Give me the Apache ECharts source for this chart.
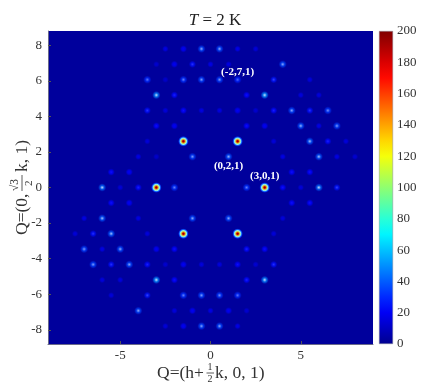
<!DOCTYPE html>
<html><head><meta charset="utf-8">
<style>html,body{margin:0;padding:0;background:#fff}#c{width:423px;height:386px}</style>
<script src="https://cdn.jsdelivr.net/npm/echarts@6/dist/echarts.min.js"></script>
</head><body><div id="c"></div>
<script>
const xTicks = [-5, 0, 5];
const yTicks = [-8, -6, -4, -2, 0, 2, 4, 6, 8];
const barMax = 200;
const rowK = [9, 8, 7, 6, 5, 4, 3, 2, 1, 0, -1, -2, -3, -4, -5, -6, -7, -8, -9];
const rowX = [
  [-2.5, -1.5, -0.5, 0.5, 1.5, 2.5],
  [-3, -2, -1, 0, 1, 4],
  [-3.5, -2.5, -1.5, -0.5, 0.5, 1.5, 3.5, 5.5],
  [-3, -2, 2, 3, 5, 6],
  [-3.5, -2.5, -1.5, -0.5, 0.5, 1.5, 2.5, 3.5, 4.5, 5.5, 6.5],
  [-3, -2, 2, 3, 5, 6, 7],
  [-3.5, -1.5, 1.5, 3.5, 5.5, 6.5, 7.5],
  [-4, -3, -1, 1, 4, 6, 7, 8],
  [-5.5, -4.5, 4.5, 5.5],
  [-6, -5, -4, -3, -2, 2, 3, 4, 5, 6, 7],
  [-5.5, -4.5, 4.5, 5.5],
  [-7, -6, -4, -1, 1, 4],
  [-7.5, -6.5, -5.5, -3.5, -1.5, 1.5, 3.5],
  [-7, -6, -5, -3, -2, 2, 3],
  [-6.5, -5.5, -4.5, -3.5, -2.5, -1.5, -0.5, 0.5, 1.5, 2.5, 3.5],
  [-6, -5, -3, -2, 2, 3],
  [-5.5, -3.5, -1.5, -0.5, 0.5, 1.5],
  [-4, -2, -1, 0, 1, 2],
  [-2.5, -1.5, -0.5, 0.5, 1.5]
];
const rowV = [
  [10, 14, 36, 36, 12, 7],
  [4, 13, 20, 10, 10, 36],
  [28, 3, 30, 34, 33, 26, 22, 8],
  [52, 18, 16, 55, 8, 8],
  [20, 7, 16, 9, 9, 14, 4, 18, 36, 20, 32],
  [16, 14, 16, 14, 38, 10, 34],
  [7, 200, 200, 7, 40, 18, 8],
  [10, 3, 34, 38, 10, 40, 10, 5],
  [16, 14, 16, 16],
  [46, 6, 18, 200, 30, 30, 200, 16, 7, 46, 22],
  [16, 14, 16, 16],
  [10, 40, 10, 36, 36, 8],
  [7, 20, 40, 8, 200, 200, 7],
  [34, 10, 36, 14, 16, 18, 16],
  [34, 20, 36, 18, 4, 14, 8, 8, 16, 5, 20],
  [8, 8, 55, 16, 18, 52],
  [7, 22, 30, 34, 32, 28],
  [36, 8, 14, 10, 13, 5],
  [7, 14, 35, 36, 11]
];
const peakLabels = ['(-2,7,1)', '(0,2,1)', '(3,0,1)'];
const labelX = [1.5, 1, 3];
const labelK = [7, 2, 0];
const labelOffsetY = [-8, 9, -11];

const font = '"Liberation Serif","Times New Roman",serif';
const ink = '#333';
const bg = '#00009c';
const jetStops = [[0, [0, 0, 143]], [0.11, [0, 0, 255]], [0.36, [0, 255, 255]], [0.61, [255, 255, 0]], [0.86, [255, 0, 0]], [1, [128, 0, 0]]];
function jetRgb(t) {
  t = Math.max(0, Math.min(1, t));
  for (let i = 1; i < jetStops.length; i++) {
    if (t <= jetStops[i][0]) {
      const a = jetStops[i - 1], b = jetStops[i], f = (t - a[0]) / (b[0] - a[0]);
      return a[1].map((c, j) => Math.round(c + (b[1][j] - c) * f));
    }
  }
  return jetStops[5][1];
}
const css = c => `rgb(${c[0]},${c[1]},${c[2]})`;
const jet = t => css(jetRgb(t));
const bgRgb = [0, 0, 156];
function spotFill(v) {
  let stops;
  if (v >= 100) {
    stops = [[0, '#8a0000'], [0.16, '#c00000'], [0.3, '#f09000'], [0.44, '#b8e080'], [0.58, '#90f0e8'], [0.74, '#1060ff'], [0.88, '#0018c8'], [1, 'rgba(0,0,156,0)']];
  } else {
    const base = jetRgb(0.05 + v / 200 * 0.72);
    const w = Math.min(0.75, Math.max(0, (v - 14) / 42));
    const core = base.map(c => Math.round(c + (255 - c) * w));
    const mid = base.map((c, i) => Math.round(c * 0.75 + bgRgb[i] * 0.25));
    const low = base.map((c, i) => Math.round(c * 0.3 + bgRgb[i] * 0.7));
    stops = [[0, css(core)], [0.22, css(core.map((c, i) => Math.round((c + mid[i]) / 2)))], [0.45, css(mid)], [0.72, css(low)], [1, 'rgba(0,0,156,0)']];
  }
  return { type: 'radial', x: 0.5, y: 0.5, r: 0.5, colorStops: stops.map(s => ({ offset: s[0], color: s[1] })) };
}
const rt = Math.sqrt(3) / 2;
const spots = [];
rowK.forEach((k, i) => rowX[i].forEach((x, j) => {
  const v = rowV[i][j];
  spots.push({ value: [x, k * rt, v], symbolSize: v >= 100 ? 11 : (v > 25 ? 9 : (v > 12 ? 8 : 7)), itemStyle: { color: spotFill(v), opacity: 1 } });
}));
const barStops = [];
for (let i = 0; i <= 20; i++) barStops.push({ offset: i / 20, color: jet(1 - i / 20) });

const axisLine = { show: true, onZero: false, lineStyle: { color: '#6a6a8a', width: 1 } };
const t = (x, y, text, size) => ({ type: 'text', x, y, silent: true, style: { text, font: `${size}px ${font}`, fill: ink, textAlign: 'left', textVerticalAlign: 'middle' } });

const chart = echarts.init(document.getElementById('c'), null, { renderer: 'canvas' });
chart.setOption({
  animation: false,
  backgroundColor: '#fff',
  title: {
    text: '{i|T} = 2 K', left: 210, top: 7, textAlign: 'center',
    textStyle: { rich: { i: { fontStyle: 'italic', fontFamily: font, fontSize: 17, color: '#222' } }, fontFamily: font, fontSize: 17, fontWeight: 'normal', color: '#222' }
  },
  grid: [
    { left: 48, top: 31, width: 325, height: 313, show: true, backgroundColor: bg, borderWidth: 0 },
    { left: 379, top: 31, width: 14, height: 313, show: false }
  ],
  xAxis: [
    { type: 'value', gridIndex: 0, min: -9, max: 9, splitLine: { show: false }, axisLine, position: 'bottom',
      axisTick: { inside: true, length: 3, customValues: xTicks, lineStyle: { color: '#555' } },
      axisLabel: { customValues: xTicks, color: ink, fontFamily: font, fontSize: 13, margin: 5, formatter: v => String(v) } },
    { type: 'category', gridIndex: 1, data: ['c'], axisLine: { show: false }, axisTick: { show: false }, axisLabel: { show: false } }
  ],
  yAxis: [
    { type: 'value', gridIndex: 0, min: -8.8, max: 8.8, splitLine: { show: false }, axisLine, position: 'left',
      axisTick: { inside: true, length: 3, customValues: yTicks, lineStyle: { color: '#555' } },
      axisLabel: { customValues: yTicks, color: ink, fontFamily: font, fontSize: 13, margin: 6, formatter: v => String(v) } },
    { type: 'value', gridIndex: 1, min: 0, max: barMax, interval: 20, position: 'right', splitLine: { show: false },
      axisLine: { show: false }, axisTick: { inside: true, length: 2, lineStyle: { color: '#555' } },
      axisLabel: { color: ink, fontFamily: font, fontSize: 13, margin: 4 } }
  ],
  series: [
    { type: 'scatter', xAxisIndex: 0, yAxisIndex: 0, data: spots, silent: true, z: 2 },
    { type: 'scatter', xAxisIndex: 0, yAxisIndex: 0, symbolSize: 1, silent: true, z: 3, itemStyle: { opacity: 0 },
      data: peakLabels.map((s, i) => ({ value: [labelX[i], labelK[i] * rt], label: { show: true, formatter: s, position: 'inside', offset: [0, labelOffsetY[i]],
        color: '#fff', fontFamily: font, fontSize: 11, fontWeight: 'bold', opacity: 1 } })) },
    { type: 'bar', xAxisIndex: 1, yAxisIndex: 1, data: [barMax], barWidth: '100%', silent: true,
      itemStyle: { color: { type: 'linear', x: 0, y: 0, x2: 0, y2: 1, colorStops: barStops }, borderColor: '#8a8a9a', borderWidth: 0.5 } }
  ],
  graphic: [
    { type: 'group', x: 0, y: 0, silent: true, children: [
      t(157, 373, 'Q=(h+', 17.5),
      t(207.5, 367, '1', 10),
      { type: 'line', silent: true, shape: { x1: 206.5, y1: 373, x2: 214, y2: 373 }, style: { stroke: ink, lineWidth: 0.8 } },
      t(207.5, 379.5, '2', 10),
      t(215, 373, 'k, 0, 1)', 17.5)
    ] },
    { type: 'group', x: 22, y: 235, rotation: Math.PI / 2, silent: true, children: [
      t(0, 0, 'Q=(0,', 17.5),
      t(44, -7, '\u221A3', 11.5),
      { type: 'line', silent: true, shape: { x1: 44, y1: 0, x2: 60, y2: 0 }, style: { stroke: ink, lineWidth: 0.8 } },
      t(49, 7, '2', 11),
      t(63, 0, 'k, 1)', 17.5)
    ] }
  ]
});
</script></body></html>
